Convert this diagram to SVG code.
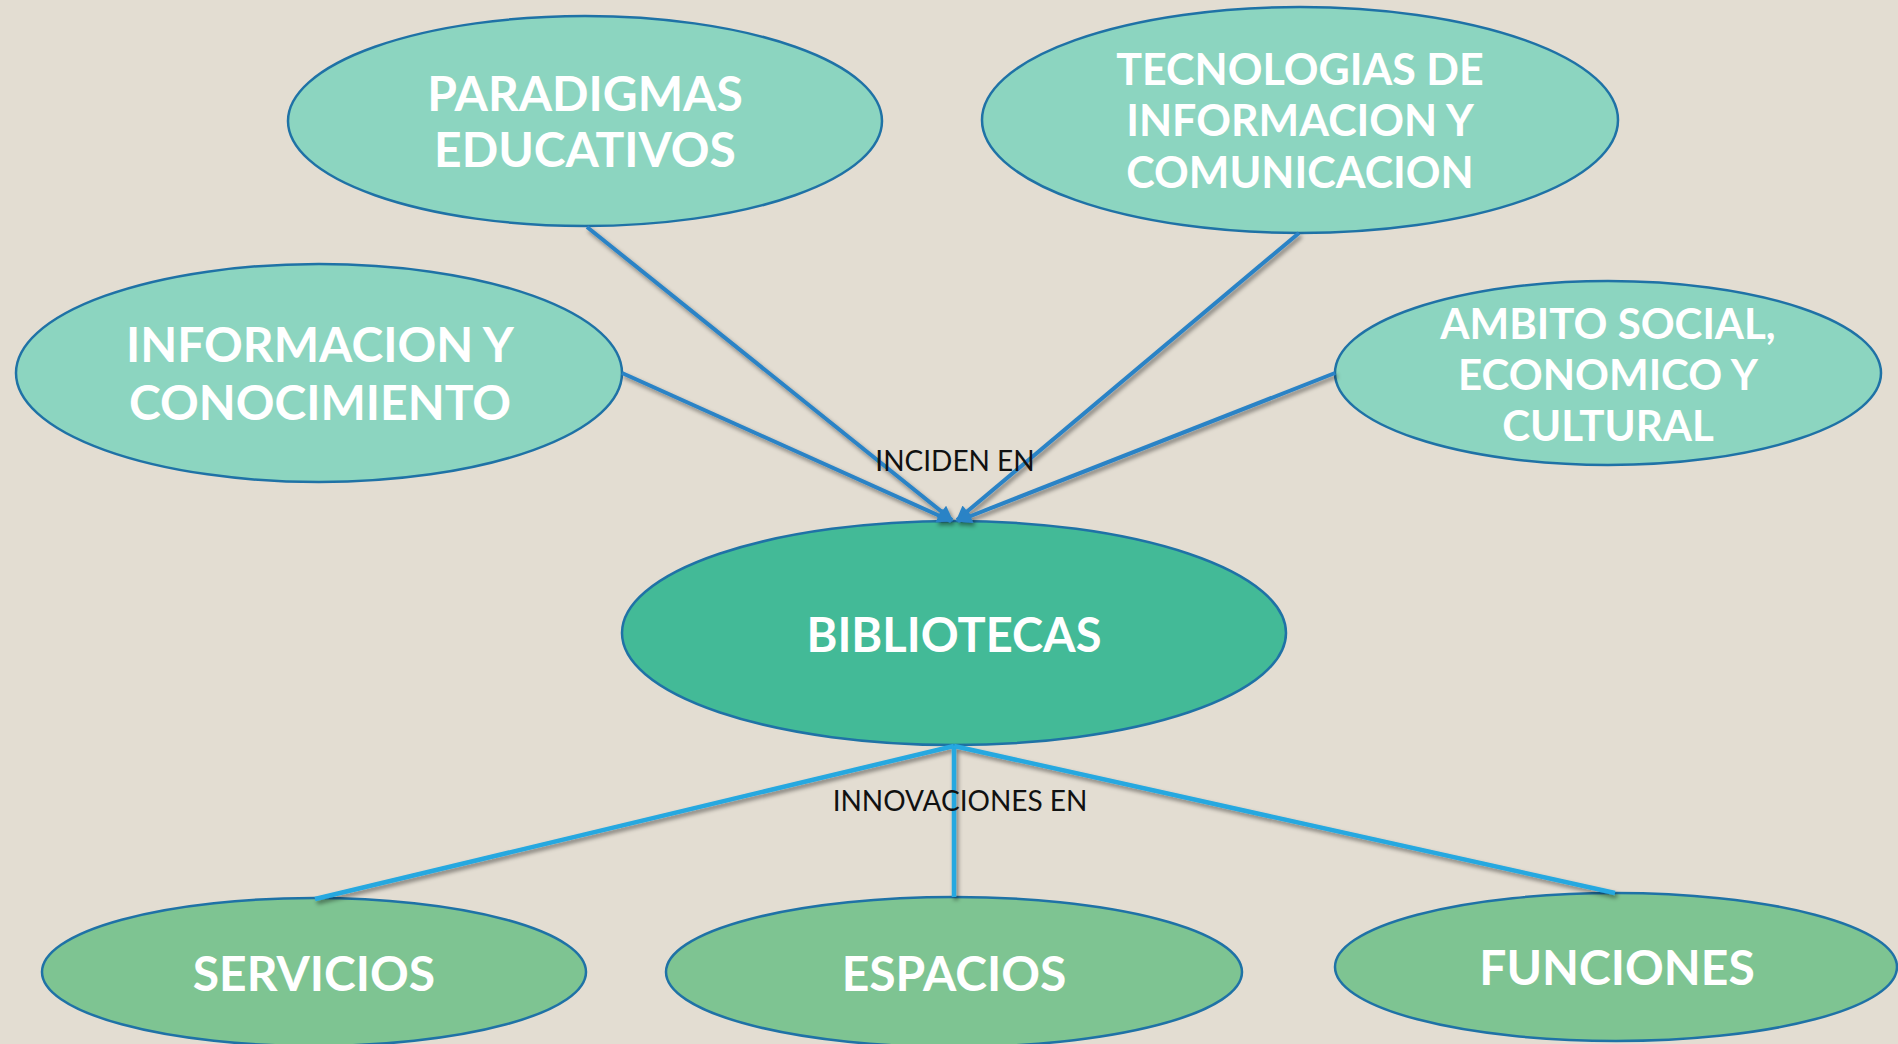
<svg xmlns="http://www.w3.org/2000/svg" width="1898" height="1044" viewBox="0 0 1898 1044">
<style>
.bg{fill:#e3ddd2}
.n1{fill:#8cd5c0;stroke:#1f72a6;stroke-width:2.5}
.n2{fill:#43ba97;stroke:#1f72a6;stroke-width:2.5}
.n3{fill:#7ec492;stroke:#1f72a6;stroke-width:2.5}
.t{font-family:Lato,"Liberation Sans",sans-serif;font-weight:700;fill:#ffffff;text-anchor:middle}
.lbl{font-family:Lato,"Liberation Sans",sans-serif;font-weight:400;fill:#111111;text-anchor:middle;font-size:28px}
.arr{stroke:#2b83c6;stroke-width:4;fill:none}
.ln{stroke:#25a8e0;stroke-width:4.5;fill:none}
</style>
<defs>
<filter id="sh" x="-20%" y="-20%" width="140%" height="140%">
<feDropShadow dx="2" dy="3" stdDeviation="2" flood-color="#000" flood-opacity="0.45"/>
</filter>
<marker id="ah" viewBox="0 0 10 10" refX="9" refY="5" markerWidth="19" markerHeight="15" markerUnits="userSpaceOnUse" orient="auto">
<path d="M0,0 L10,5 L0,10 z" fill="#2b83c6"/>
</marker>
</defs>
<rect class="bg" x="0" y="0" width="1898" height="1044"/>

<g id="n-paradigmas">
<ellipse class="n1" cx="585" cy="121" rx="297" ry="105"/>
<text class="t" font-size="48" x="585" y="111">PARADIGMAS</text>
<text class="t" font-size="48" x="585" y="167">EDUCATIVOS</text>
</g>
<g id="n-informacion">
<ellipse class="n1" cx="319" cy="373" rx="303" ry="109"/>
<text class="t" font-size="48" x="320" y="362">INFORMACION Y</text>
<text class="t" font-size="48" x="320" y="420">CONOCIMIENTO</text>
</g>
<g id="n-tecnologias">
<ellipse class="n1" cx="1300" cy="120" rx="318" ry="113"/>
<text class="t" font-size="43" x="1300" y="85">TECNOLOGIAS DE</text>
<text class="t" font-size="43" x="1300" y="136">INFORMACION Y</text>
<text class="t" font-size="43" x="1300" y="188">COMUNICACION</text>
</g>
<g id="n-ambito">
<ellipse class="n1" cx="1608" cy="373" rx="273" ry="92"/>
<text class="t" font-size="42" x="1608" y="339">AMBITO SOCIAL,</text>
<text class="t" font-size="42" x="1608" y="390">ECONOMICO Y</text>
<text class="t" font-size="42" x="1608" y="441">CULTURAL</text>
</g>
<g id="n-bibliotecas">
<ellipse class="n2" cx="954" cy="633" rx="332" ry="112"/>
<text class="t" font-size="47" x="954" y="652">BIBLIOTECAS</text>
</g>
<g id="n-servicios">
<ellipse class="n3" cx="314" cy="972" rx="272" ry="74"/>
<text class="t" font-size="48" x="314" y="991">SERVICIOS</text>
</g>
<g id="n-espacios">
<ellipse class="n3" cx="954" cy="972" rx="288" ry="75"/>
<text class="t" font-size="48" x="954" y="991">ESPACIOS</text>
</g>
<g id="n-funciones">
<ellipse class="n3" cx="1616" cy="967" rx="281" ry="74"/>
<text class="t" font-size="48" x="1617" y="985">FUNCIONES</text>
</g>

<g id="connectors" filter="url(#sh)">
<line class="arr" x1="587" y1="227" x2="952" y2="520" marker-end="url(#ah)"/>
<line class="arr" x1="622" y1="373" x2="951" y2="521" marker-end="url(#ah)"/>
<line class="arr" x1="1299" y1="233" x2="957" y2="520" marker-end="url(#ah)"/>
<line class="arr" x1="1335" y1="373" x2="958" y2="521" marker-end="url(#ah)"/>
<line class="ln" x1="954" y1="746" x2="315" y2="899"/>
<line class="ln" x1="954" y1="746" x2="954" y2="897"/>
<line class="ln" x1="954" y1="746" x2="1615" y2="893"/>
</g>
<g id="labels">
<text class="lbl" x="955" y="471">INCIDEN EN</text>
<text class="lbl" x="960" y="811">INNOVACIONES EN</text>
</g>
</svg>
